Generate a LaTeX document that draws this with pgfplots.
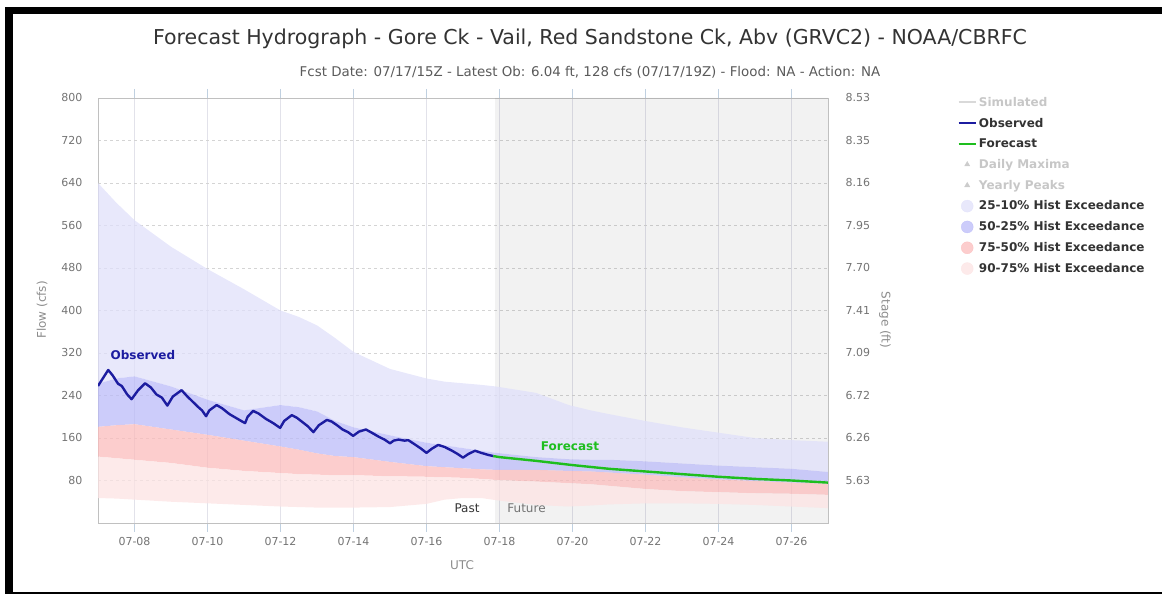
\documentclass[border=0pt]{standalone}
\usepackage{pgfplots}
\pgfplotsset{compat=1.18}
\usepackage{pgfplotstable}
\usepackage{fontspec}
\setmainfont{DejaVu Sans}

\definecolor{titlegray}{RGB}{51,51,51}
\definecolor{subgray}{RGB}{90,90,90}
\definecolor{tickgray}{RGB}{115,115,115}
\definecolor{labgray}{RGB}{140,140,140}
\definecolor{gridgray}{RGB}{212,212,212}
\definecolor{vgrid}{RGB}{226,226,234}
\definecolor{tickblue}{RGB}{192,208,224}
\definecolor{boxgray}{RGB}{192,192,192}
\definecolor{obsblue}{RGB}{28,28,160}
\definecolor{fcgreen}{RGB}{30,190,30}
\definecolor{bandA}{RGB}{224,224,250}
\definecolor{bandB}{RGB}{187,187,248}
\definecolor{bandC}{RGB}{251,188,188}
\definecolor{bandD}{RGB}{252,227,227}

\pgfplotstableread{
x y
7.00 258
7.28 288
7.40 278
7.55 262
7.65 258
7.80 242
7.92 233
8.10 250
8.29 263
8.45 255
8.60 242
8.75 236
8.90 221
9.05 238
9.29 250
9.45 238
9.60 228
9.75 218
9.85 212
9.96 201
10.05 212
10.25 222
10.40 216
10.60 205
10.80 197
10.95 191
11.03 188
11.10 200
11.25 211
11.40 206
11.60 196
11.80 188
11.99 179
12.10 192
12.31 203
12.45 198
12.60 190
12.75 182
12.90 171
13.05 184
13.27 194
13.40 191
13.55 184
13.70 176
13.85 171
13.99 164
14.15 172
14.34 176
14.50 170
14.70 162
14.85 157
15.00 150
15.10 155
15.23 157
15.40 155
15.50 156
15.70 147
15.85 140
16.00 132
16.15 140
16.32 147
16.50 143
16.70 136
16.85 130
17.00 123
17.15 130
17.33 136
17.50 132
17.70 128
17.83 126
}\obs

\pgfplotstableread{
x y
17.83 126
18 124
19 117
20 109
21 102
22 97
23 92
24 87
25 83
26 80
27 76
}\fcst

\begin{document}
\begin{tikzpicture}[x=1pt,y=1pt]
\path (0,0) rectangle (1162,596);

\node[text=titlegray, font=\fontsize{20.5}{24}\selectfont] at (590,557) {Forecast Hydrograph - Gore Ck - Vail, Red Sandstone Ck, Abv (GRVC2) - NOAA/CBRFC};
\node[text=subgray, font=\fontsize{13.4}{15}\selectfont] at (590,524) {Fcst Date: 07/17/15Z - Latest Ob: 6.04 ft, 128 cfs (07/17/19Z) - Flood: NA - Action: NA};

\begin{axis}[
  at={(98pt,73pt)}, anchor=south west,
  scale only axis, width=730pt, height=425pt,
  xmin=7, xmax=27, ymin=0, ymax=800,
  /pgf/number format/assume math mode=true,
  xtick={8,10,...,26},
  xticklabels={07-08,07-10,07-12,07-14,07-16,07-18,07-20,07-22,07-24,07-26},
  ytick={80,160,240,320,400,480,560,640,720,800},
  yticklabels={80,160,240,320,400,480,560,640,720,800},
  xmajorgrids, ymajorgrids,
  x grid style={vgrid, line width=0.8pt},
  y grid style={gridgray, dash pattern=on 3pt off 3pt, line width=0.8pt},
  axis line style={boxgray, line width=0.8pt},
  tick align=outside,
  xtick style={tickblue, line width=0.8pt},
  major tick length=9pt,
  ytick style={draw=none},
  ticklabel style={font=\fontsize{11}{13}\selectfont, text=tickgray},
  yticklabel style={xshift=-3pt},
  xticklabel style={yshift=-2pt},
  legend style={at={(axis description cs:1.173,1.012)}, anchor=north west,
    draw=none, fill=none, font=\bfseries\fontsize{12}{14}\selectfont,
    text=titlegray, row sep=6.2pt},
  legend cell align=left,
]
\addplot[draw=none, fill=black, fill opacity=0.05, forget plot] coordinates {(17.88,0) (17.88,800) (27,800) (27,0) (17.88,0)};

% 25-10% band (upper 10%, lower 25%)
\addplot[draw=none, fill=bandA, fill opacity=0.75, forget plot] coordinates {
(7,640) (7.5,603) (8,570) (9,520) (10,478) (11,440) (12,400) (12.5,388) (13,372) (13.5,348) (14,322) (15,290) (16,272) (16.5,266) (17,263) (17.5,260) (17.9,257) (19,245) (19.9,222) (20.5,212) (21,205) (22,192) (23,180) (24,170) (25,160) (26,156) (27,153)
(27,96) (26,102) (25,105) (24,108) (23,112) (22,116) (21,119) (20.5,119) (19.9,120) (19,124) (17.9,132) (17.5,136) (17,141) (16.5,146) (16,151) (15,165) (14,180) (13.5,192) (13,210) (12.5,218) (12,222) (11,212) (10,232) (9,257) (8,276) (7.5,272) (7,262)};
% 50-25% band
\addplot[draw=none, fill=bandB, fill opacity=0.75, forget plot] coordinates {
(7,262) (7.5,272) (8,276) (9,257) (10,232) (11,212) (12,222) (12.5,218) (13,210) (13.5,192) (14,180) (15,165) (16,151) (16.5,146) (17,141) (17.5,136) (17.9,132) (19,124) (19.9,120) (20.5,119) (21,119) (22,116) (23,112) (24,108) (25,105) (26,102) (27,96)
(27,74) (26,76) (25,79) (24,82) (23,86) (22,91) (21,95) (20.5,97) (19.9,98) (19,100) (17.9,100) (17.5,101) (17,103) (16.5,105) (16,107) (15,115) (14,124) (13.5,126) (13,131) (12.5,138) (12,144) (11,155) (10,166) (9,176) (8,186) (7.5,184) (7,181)};
% 75-50% band
\addplot[draw=none, fill=bandC, fill opacity=0.75, forget plot] coordinates {
(7,181) (7.5,184) (8,186) (9,176) (10,166) (11,155) (12,144) (12.5,138) (13,131) (13.5,126) (14,124) (15,115) (16,107) (16.5,105) (17,103) (17.5,101) (17.9,100) (19,100) (19.9,98) (20.5,97) (21,95) (22,91) (23,86) (24,82) (25,79) (26,76) (27,74)
(27,53) (26,55) (25,56) (24,58) (23,60) (22,64) (21,70) (20.5,73) (19.9,75) (19,78) (17.9,81) (17.5,83) (17,85) (16.5,86) (16,87) (15,88) (14,90) (13.5,90) (13,91) (12.5,92) (12,94) (11,98) (10,104) (9,113) (8,119) (7.5,122) (7,125)};
% 90-75% band
\addplot[draw=none, fill=bandD, fill opacity=0.75, forget plot] coordinates {
(7,125) (7.5,122) (8,119) (9,113) (10,104) (11,98) (12,94) (12.5,92) (13,91) (13.5,90) (14,90) (15,88) (16,87) (16.5,86) (17,85) (17.5,83) (17.9,81) (19,78) (19.9,75) (20.5,73) (21,70) (22,64) (23,60) (24,58) (25,56) (26,55) (27,53)
(27,28) (26,31) (25,34) (24,36) (23,37) (22,37) (21,35) (20.5,33) (19.9,31) (19,34) (17.9,43) (17.5,47) (17,47) (16.5,44) (16,36) (15,30) (14,29) (13.5,29) (13,29) (12.5,30) (12,31) (11,34) (10,37) (9,40) (8,44) (7.5,46) (7,47)};

\addplot[obsblue, line width=2.4pt, line join=round, forget plot] table[x=x,y=y]{\obs};
\addplot[fcgreen, line width=2.4pt, line join=round, forget plot] table[x=x,y=y]{\fcst};

\node[text=obsblue, font=\bfseries\fontsize{12}{14}\selectfont] at (axis cs:8.23,316) {Observed};
\node[text=fcgreen, font=\bfseries\fontsize{12}{14}\selectfont] at (axis cs:19.93,145) {Forecast};
\node[text=titlegray, anchor=east, font=\fontsize{12}{14}\selectfont] at (axis cs:17.55,28) {Past};
\node[text=tickgray, anchor=west, font=\fontsize{12}{14}\selectfont] at (axis cs:18.12,27) {Future};

\addlegendimage{line width=2pt, black!15}
\addlegendentry{\textcolor{black!22}{Simulated}}
\addlegendimage{line width=2.4pt, obsblue}
\addlegendentry{Observed}
\addlegendimage{line width=2.4pt, fcgreen}
\addlegendentry{Forecast}
\addlegendimage{only marks, mark=triangle*, mark size=3pt, color=black!20}
\addlegendentry{\textcolor{black!22}{Daily Maxima}}
\addlegendimage{only marks, mark=triangle*, mark size=3pt, color=black!20}
\addlegendentry{\textcolor{black!22}{Yearly Peaks}}
\addlegendimage{only marks, mark=*, mark size=6pt, color=bandA, opacity=0.75}
\addlegendentry{25-10\% Hist Exceedance}
\addlegendimage{only marks, mark=*, mark size=6pt, color=bandB, opacity=0.75}
\addlegendentry{50-25\% Hist Exceedance}
\addlegendimage{only marks, mark=*, mark size=6pt, color=bandC, opacity=0.75}
\addlegendentry{75-50\% Hist Exceedance}
\addlegendimage{only marks, mark=*, mark size=6pt, color=bandD, opacity=0.75}
\addlegendentry{90-75\% Hist Exceedance}
\end{axis}

\begin{axis}[
  at={(98pt,73pt)}, anchor=south west,
  scale only axis, width=730pt, height=425pt,
  xmin=7, xmax=27, ymin=0, ymax=800,
  /pgf/number format/assume math mode=true,
  hide x axis, axis y line*=right,
  axis line style={boxgray, line width=0.8pt},
  ytick={80,160,240,320,400,480,560,640,720,800},
  yticklabels={5.63,6.26,6.72,7.09,7.41,7.70,7.95,8.16,8.35,8.53},
  ytick style={draw=none},
  ticklabel style={font=\fontsize{11}{13}\selectfont, text=tickgray},
  yticklabel style={xshift=14pt},
]
\addplot[draw=none] coordinates {(7,0) (27,800)};
\end{axis}

\node[rotate=90, text=labgray, font=\fontsize{12}{14}\selectfont] at (42,286) {Flow (cfs)};
\node[rotate=-90, text=labgray, font=\fontsize{12}{14}\selectfont] at (885,276) {Stage (ft)};
\node[text=labgray, font=\fontsize{12}{14}\selectfont] at (462,31) {UTC};

\fill[black] (5,582) rectangle (1162,589);
\fill[black] (5,2) rectangle (13,589);
\fill[black] (5,2) rectangle (1162,4);
\end{tikzpicture}
\end{document}
